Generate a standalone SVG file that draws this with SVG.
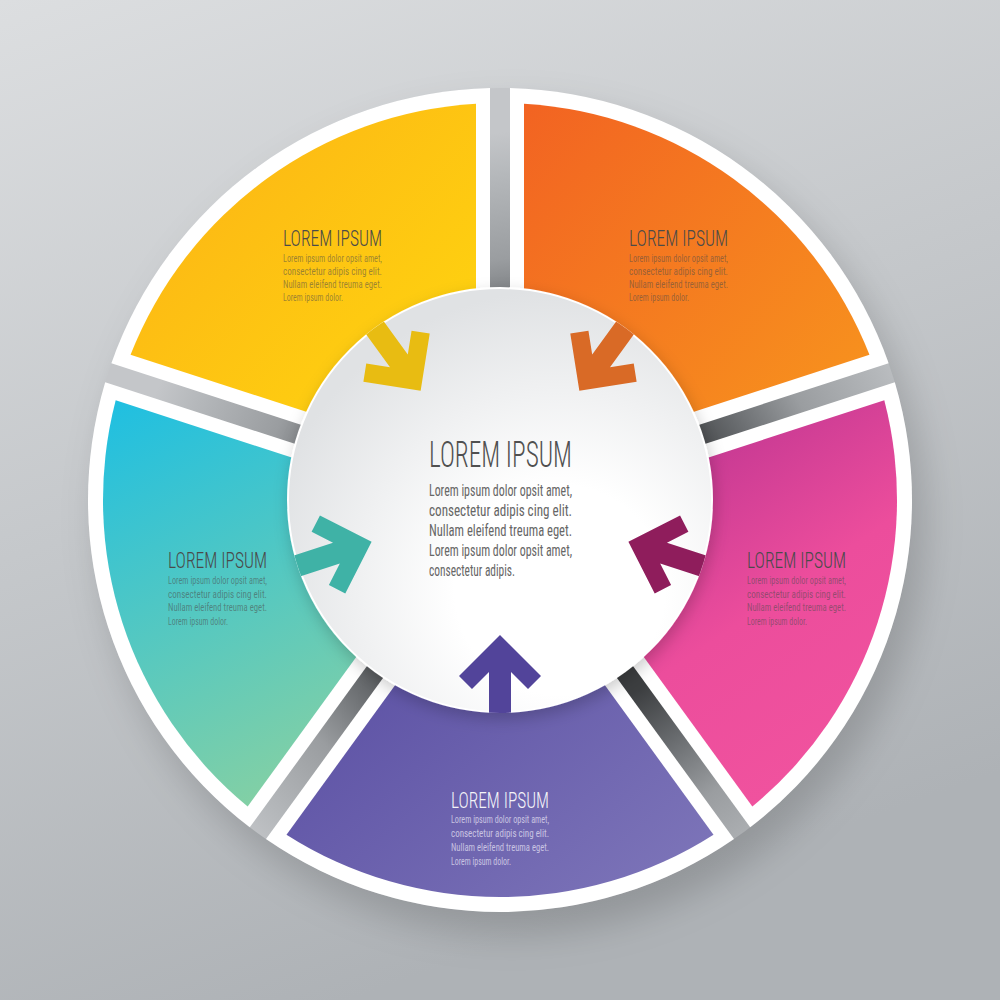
<svg xmlns="http://www.w3.org/2000/svg" width="1000" height="1000" viewBox="0 0 1000 1000">
<defs>
  <style>
    .ttl{font-family:"Roboto Condensed",Roboto,"Liberation Sans",sans-serif;font-weight:300;fill:#4a4a4a}
    .st{font-size:22px}
    .bd{font-family:"Roboto Condensed",Roboto,"Liberation Sans",sans-serif;font-size:10.5px;fill:#4a4a4a;fill-opacity:0.55}
    .ctl{font-size:36px;fill:#505050}
    .cbd{font-family:"Roboto Condensed",Roboto,"Liberation Sans",sans-serif;font-size:16px;fill:#666}
    .lt{fill:#f4f4f8}
    .lb{fill:#e6e3f4;fill-opacity:0.75}
    .rim{fill:#ffffff}
  </style>
  <linearGradient id="bg" x1="0" y1="0" x2="0.35" y2="1">
    <stop offset="0" stop-color="#dcdee0"/>
    <stop offset="1" stop-color="#aeb2b6"/>
  </linearGradient>
  <radialGradient id="gapg" gradientUnits="userSpaceOnUse" cx="545" cy="550" r="420">
    <stop offset="0.4" stop-color="#3c3e40"/>
    <stop offset="0.55" stop-color="#6a6d70"/>
    <stop offset="0.7" stop-color="#9a9da0"/>
    <stop offset="0.9" stop-color="#b5b8bb"/>
    <stop offset="1" stop-color="#c4c6c9"/>
  </radialGradient>
  <radialGradient id="hubg" gradientUnits="userSpaceOnUse" cx="560" cy="590" r="300">
    <stop offset="0.35" stop-color="#ffffff"/>
    <stop offset="1" stop-color="#e0e2e4"/>
  </radialGradient>
  <linearGradient id="gY" x1="0" y1="0" x2="1" y2="1">
    <stop offset="0" stop-color="#fcb116"/>
    <stop offset="1" stop-color="#ffd90e"/>
  </linearGradient>
  <linearGradient id="gO" x1="0" y1="0" x2="1" y2="1">
    <stop offset="0" stop-color="#f26322"/>
    <stop offset="1" stop-color="#f8981d"/>
  </linearGradient>
  <linearGradient id="gP" x1="0" y1="0" x2="0.6" y2="1">
    <stop offset="0" stop-color="#a92a8c"/>
    <stop offset="0.65" stop-color="#ec4d9c"/>
    <stop offset="1" stop-color="#f0529e"/>
  </linearGradient>
  <linearGradient id="gV" x1="0" y1="0" x2="1" y2="1">
    <stop offset="0" stop-color="#52469e"/>
    <stop offset="1" stop-color="#7f77ba"/>
  </linearGradient>
  <linearGradient id="gT" x1="0" y1="0" x2="0.45" y2="1">
    <stop offset="0" stop-color="#1ebfe2"/>
    <stop offset="1" stop-color="#84d0a4"/>
  </linearGradient>
  <filter id="hubsh" x="-20%" y="-20%" width="140%" height="140%">
    <feDropShadow dx="2" dy="6" stdDeviation="8" flood-color="#000" flood-opacity="0.2"/>
  </filter>
  <filter id="blur" x="-20%" y="-20%" width="140%" height="140%">
    <feGaussianBlur stdDeviation="18"/>
  </filter>
  <clipPath id="hubclip"><circle cx="500" cy="500" r="213"/></clipPath>
</defs>

<rect x="0" y="0" width="1000" height="1000" fill="url(#bg)"/>
<circle cx="512" cy="520" r="414" fill="#000" fill-opacity="0.16" filter="url(#blur)"/>
<circle cx="500" cy="500" r="412" fill="url(#gapg)"/>

<g id="node-orange">
  <path class="rim" d="M510,486.24 L510,88.12 A412,412 0 0 1 888.63,363.21 Z"/>
  <path fill="url(#gO)" d="M524,466.97 L524,103.73 A397,397 0 0 1 869.46,354.72 Z"/>
  <text class="ttl st" x="629" y="246" textLength="99" lengthAdjust="spacingAndGlyphs">LOREM IPSUM</text>
  <text class="bd" x="629" y="262" textLength="99" lengthAdjust="spacingAndGlyphs">Lorem ipsum dolor opsit amet,</text>
  <text class="bd" x="629" y="275" textLength="99" lengthAdjust="spacingAndGlyphs">consectetur adipis cing elit.</text>
  <text class="bd" x="629" y="288" textLength="99" lengthAdjust="spacingAndGlyphs">Nullam eleifend treuma eget.</text>
  <text class="bd" x="629" y="301" textLength="60" lengthAdjust="spacingAndGlyphs">Lorem ipsum dolor.</text>
</g>

<g id="node-pink">
  <path class="rim" d="M516.18,505.26 L894.81,382.23 A412,412 0 0 1 750.19,827.34 Z"/>
  <path fill="url(#gP)" d="M538.83,512.62 L884.30,400.37 A397,397 0 0 1 752.34,806.49 Z"/>
  <text class="ttl st" x="747" y="568" textLength="99" lengthAdjust="spacingAndGlyphs">LOREM IPSUM</text>
  <text class="bd" x="747" y="584" textLength="99" lengthAdjust="spacingAndGlyphs">Lorem ipsum dolor opsit amet,</text>
  <text class="bd" x="747" y="597.5" textLength="99" lengthAdjust="spacingAndGlyphs">consectetur adipis cing elit.</text>
  <text class="bd" x="747" y="611" textLength="99" lengthAdjust="spacingAndGlyphs">Nullam eleifend treuma eget.</text>
  <text class="bd" x="747" y="624.5" textLength="60" lengthAdjust="spacingAndGlyphs">Lorem ipsum dolor.</text>
</g>

<g id="node-purple">
  <path class="rim" d="M500,517.01 L734,839.10 A412,412 0 0 1 266,839.10 Z"/>
  <path fill="url(#gV)" d="M500,540.83 L713.51,834.70 A397,397 0 0 1 286.49,834.70 Z"/>
  <text class="ttl st lt" x="451" y="808" textLength="98" lengthAdjust="spacingAndGlyphs">LOREM IPSUM</text>
  <text class="bd lb" x="451" y="823" textLength="98" lengthAdjust="spacingAndGlyphs">Lorem ipsum dolor opsit amet,</text>
  <text class="bd lb" x="451" y="837" textLength="98" lengthAdjust="spacingAndGlyphs">consectetur adipis cing elit.</text>
  <text class="bd lb" x="451" y="851" textLength="98" lengthAdjust="spacingAndGlyphs">Nullam eleifend treuma eget.</text>
  <text class="bd lb" x="451" y="865" textLength="60" lengthAdjust="spacingAndGlyphs">Lorem ipsum dolor.</text>
</g>

<g id="node-teal">
  <path class="rim" d="M483.82,505.26 L249.81,827.34 A412,412 0 0 1 105.19,382.23 Z"/>
  <path fill="url(#gT)" d="M461.17,512.62 L247.66,806.49 A397,397 0 0 1 115.70,400.37 Z"/>
  <text class="ttl st" x="168" y="568" textLength="99" lengthAdjust="spacingAndGlyphs">LOREM IPSUM</text>
  <text class="bd" x="168" y="584" textLength="99" lengthAdjust="spacingAndGlyphs">Lorem ipsum dolor opsit amet,</text>
  <text class="bd" x="168" y="597.5" textLength="99" lengthAdjust="spacingAndGlyphs">consectetur adipis cing elit.</text>
  <text class="bd" x="168" y="611" textLength="99" lengthAdjust="spacingAndGlyphs">Nullam eleifend treuma eget.</text>
  <text class="bd" x="168" y="624.5" textLength="60" lengthAdjust="spacingAndGlyphs">Lorem ipsum dolor.</text>
</g>

<g id="node-yellow">
  <path class="rim" d="M490,486.24 L111.37,363.21 A412,412 0 0 1 490,88.12 Z"/>
  <path fill="url(#gY)" d="M476,466.97 L130.54,354.72 A397,397 0 0 1 476,103.73 Z"/>
  <text class="ttl st" x="283" y="246" textLength="99" lengthAdjust="spacingAndGlyphs">LOREM IPSUM</text>
  <text class="bd" x="283" y="262" textLength="99" lengthAdjust="spacingAndGlyphs">Lorem ipsum dolor opsit amet,</text>
  <text class="bd" x="283" y="275" textLength="99" lengthAdjust="spacingAndGlyphs">consectetur adipis cing elit.</text>
  <text class="bd" x="283" y="288" textLength="99" lengthAdjust="spacingAndGlyphs">Nullam eleifend treuma eget.</text>
  <text class="bd" x="283" y="301" textLength="60" lengthAdjust="spacingAndGlyphs">Lorem ipsum dolor.</text>
</g>

<g id="node-center">
  <circle cx="500" cy="500" r="212" fill="url(#hubg)" stroke="#ffffff" stroke-width="2" filter="url(#hubsh)"/>
  <text class="ttl ctl" x="429" y="467" textLength="143" lengthAdjust="spacingAndGlyphs">LOREM IPSUM</text>
  <text class="cbd" x="429" y="496" textLength="143" lengthAdjust="spacingAndGlyphs">Lorem ipsum dolor opsit amet,</text>
  <text class="cbd" x="429" y="516" textLength="143" lengthAdjust="spacingAndGlyphs">consectetur adipis cing elit.</text>
  <text class="cbd" x="429" y="536" textLength="143" lengthAdjust="spacingAndGlyphs">Nullam eleifend treuma eget.</text>
  <text class="cbd" x="429" y="556" textLength="143" lengthAdjust="spacingAndGlyphs">Lorem ipsum dolor opsit amet,</text>
  <text class="cbd" x="429" y="576" textLength="86" lengthAdjust="spacingAndGlyphs">consectetur adipis.</text>
</g>

<g id="connectors" clip-path="url(#hubclip)">
  <polygon id="arrow-purple" fill="#52449a" points="500,635 541,676 528,689 511,672 511,722 489,722 489,672 472,689 459,676"/>
  <polygon id="arrow-orange" fill="#d96a26" transform="rotate(-144 500 500)" points="500,635 541,676 528,689 511,672 511,722 489,722 489,672 472,689 459,676"/>
  <polygon id="arrow-pink" fill="#8f1d5c" transform="rotate(-72 500 500)" points="500,635 541,676 528,689 511,672 511,722 489,722 489,672 472,689 459,676"/>
  <polygon id="arrow-teal" fill="#3fb2a6" transform="rotate(72 500 500)" points="500,635 541,676 528,689 511,672 511,722 489,722 489,672 472,689 459,676"/>
  <polygon id="arrow-yellow" fill="#e8bc12" transform="rotate(144 500 500)" points="500,635 541,676 528,689 511,672 511,722 489,722 489,672 472,689 459,676"/>
</g>
</svg>
